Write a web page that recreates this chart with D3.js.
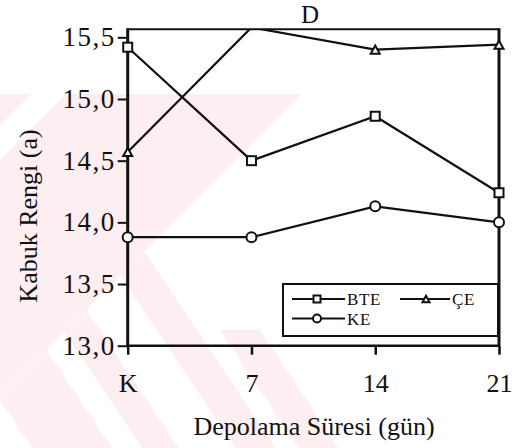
<!DOCTYPE html>
<html>
<head>
<meta charset="utf-8">
<script src="https://cdn.jsdelivr.net/npm/d3@7"></script>
<style>
  html, body { margin: 0; padding: 0; background: #fff; }
  svg { display: block; }
  svg text { fill: #111; }
</style>
</head>
<body>
<svg id="chart" width="529" height="448"></svg>
<script>
// Storage time categories (days; K = control)
const categories = ["K", "7", "14", "21"];

// Crust colour (a*) per treatment
const seriesNames = ["BTE", "ÇE", "KE"];
const bteValues = [15.42, 14.50, 14.86, 14.24];
const ceValues  = [14.57, 15.58, 15.40, 15.44];
const keValues  = [13.88, 13.88, 14.13, 14.00];

// Y axis ticks
const yTickValues = [13.0, 13.5, 14.0, 14.5, 15.0, 15.5];
const yTickLabels = ["13,0", "13,5", "14,0", "14,5", "15,0", "15,5"];

const series = [
  { name: seriesNames[0], values: bteValues, marker: "square" },
  { name: seriesNames[1], values: ceValues,  marker: "triangle" },
  { name: seriesNames[2], values: keValues,  marker: "circle" }
];

const svg = d3.select("#chart");
const W = 529, H = 448;
const pL = 127.7, pR = 499, pT = 29.3, pB = 345.7;
const SERIF = "'Liberation Serif', 'DejaVu Serif', serif";
const defs = svg.append("defs");

// Faint background emblem (diagonal pink bands)
const wm = svg.append("g").attr("class", "emblem");
const pink = "#fdeef1";
const pts = arr => arr.map(p => p.join(",")).join(" ");
wm.append("polygon").attr("points", pts([[0, 94], [302, 94], [0, 396]])).attr("fill", pink);
wm.append("polygon").attr("points", pts([[31, 94], [66, 94], [0, 160], [0, 125]])).attr("fill", "#fff");
defs.append("clipPath").attr("id", "emblem-low")
  .append("polygon")
  .attr("points", pts([[0, 396], [302, 94], [330, 94], [340, 330], [360, 448], [0, 448]]));
defs.append("clipPath").attr("id", "emblem-ymin")
  .append("rect").attr("x", 0).attr("y", 330).attr("width", W).attr("height", H - 330);
const bandSlope = 1.5;
const bands = [[280, 400, 0], [180, 235, 0], [35, 95, 0], [-60, 0, 330]];
const lowG = wm.append("g").attr("clip-path", "url(#emblem-low)");
bands.forEach(([c1, c2, yMin]) => {
  const x0 = -100, x1 = 600;
  const g = yMin ? lowG.append("g").attr("clip-path", "url(#emblem-ymin)") : lowG;
  g.append("polygon")
    .attr("points", pts([[x0, bandSlope * x0 + c1], [x1, bandSlope * x1 + c1],
                         [x1, bandSlope * x1 + c2], [x0, bandSlope * x0 + c2]]))
    .attr("fill", pink);
});

// Scales
const x = d3.scalePoint().domain(categories).range([pL, pR]).padding(0);
const y = d3.scaleLinear().domain([13, 15.565]).range([pB, pT]);

// Plot clip so lines running above the frame are cut at the top edge
defs.append("clipPath").attr("id", "plot-clip")
  .append("rect").attr("x", pL - 2).attr("y", pT).attr("width", pR - pL + 4).attr("height", pB - pT + 2);

// Axes
const labelFor = d3.scaleOrdinal().domain(yTickValues).range(yTickLabels);
const yAxis = d3.axisLeft(y).tickValues(yTickValues).tickSize(10).tickPadding(2)
  .tickSizeOuter(0).tickFormat(d => labelFor(d));
const yg = svg.append("g").attr("transform", `translate(${pL},0)`).call(yAxis);
yg.select(".domain").remove();
yg.selectAll(".tick line").attr("stroke", "#111").attr("stroke-width", 2);
yg.selectAll(".tick text").attr("font-size", 27).attr("font-family", SERIF)
  .attr("letter-spacing", 1.5).attr("fill", "#111");

const xAxis = d3.axisBottom(x).tickSize(9).tickSizeOuter(0);
const xg = svg.append("g").attr("transform", `translate(0,${pB})`).call(xAxis);
xg.select(".domain").remove();
xg.selectAll(".tick line").attr("stroke", "#111").attr("stroke-width", 2.5);
xg.selectAll(".tick text").attr("font-size", 26).attr("font-family", SERIF)
  .attr("fill", "#111").attr("y", 46).attr("dy", null);

// Frame
const frameLine = (x1, y1, x2, y2, w) => svg.append("line")
  .attr("x1", x1).attr("y1", y1).attr("x2", x2).attr("y2", y2)
  .attr("stroke", "#111").attr("stroke-width", w);
frameLine(pL, pT, pR, pT, 2);
frameLine(pR, pT - 1, pR, pB, 3);
frameLine(pL, pT - 1, pL, pB + 1, 3);
frameLine(pL - 1, pB, pR + 1, pB, 2.5);

// Lines
const line = d3.line().x((d, i) => x(categories[i])).y(d => y(d));
const linesG = svg.append("g").attr("clip-path", "url(#plot-clip)");
series.forEach(s => {
  linesG.append("path").datum(s.values).attr("d", line)
    .attr("fill", "none").attr("stroke", "#111").attr("stroke-width", 2.2);
});

// Markers
function drawMarker(g, type, cx, cy, size) {
  if (type === "square") {
    g.append("rect").attr("x", cx - size / 2).attr("y", cy - size / 2)
      .attr("width", size).attr("height", size)
      .attr("fill", "#fff").attr("stroke", "#111").attr("stroke-width", 2);
  } else if (type === "triangle") {
    const h = size * 0.9;
    g.append("polygon")
      .attr("points", `${cx},${cy - h / 2} ${cx + size / 2},${cy + h / 2} ${cx - size / 2},${cy + h / 2}`)
      .attr("fill", "#fff").attr("stroke", "#111").attr("stroke-width", 2);
  } else {
    g.append("circle").attr("cx", cx).attr("cy", cy).attr("r", size / 2)
      .attr("fill", "#fff").attr("stroke", "#111").attr("stroke-width", 2);
  }
}
const markG = svg.append("g");
series.forEach(s => {
  s.values.forEach((v, i) => {
    if (v > y.domain()[1]) return; // off the top of the frame
    drawMarker(markG, s.marker, x(categories[i]), y(v), s.marker === "circle" ? 10 : 9);
  });
});

// Title
svg.append("text").attr("x", 310).attr("y", 23).attr("text-anchor", "middle")
  .attr("font-size", 25).attr("font-family", SERIF).text("D");

// Axis titles
svg.append("text").attr("x", 314).attr("y", 435).attr("text-anchor", "middle")
  .attr("font-size", 26).attr("font-family", SERIF).text("Depolama Süresi (gün)");
svg.append("text").attr("transform", "translate(37,216) rotate(-90)")
  .attr("text-anchor", "middle").attr("font-size", 26).attr("font-family", SERIF).text("Kabuk Rengi (a)");

// Legend
const lg = svg.append("g");
lg.append("rect").attr("x", 283).attr("y", 284).attr("width", 215).attr("height", 52)
  .attr("fill", "#fff").attr("stroke", "#111").attr("stroke-width", 2);
const legendItems = [
  { s: series[0], x0: 292, x1: 345, mx: 317, ty: 299 },
  { s: series[1], x0: 400, x1: 450, mx: 426, ty: 299 },
  { s: series[2], x0: 292, x1: 345, mx: 317, ty: 318.5 }
];
legendItems.forEach(it => {
  lg.append("line").attr("x1", it.x0).attr("x2", it.x1).attr("y1", it.ty).attr("y2", it.ty)
    .attr("stroke", "#111").attr("stroke-width", 2);
  drawMarker(lg, it.s.marker, it.mx, it.ty, it.s.marker === "circle" ? 8 : 7);
  lg.append("text").attr("x", it.x1 + 2).attr("y", it.ty + 6).attr("font-size", 17)
    .attr("font-family", SERIF).attr("letter-spacing", 0.6).text(it.s.name);
});
</script>
</body>
</html>
